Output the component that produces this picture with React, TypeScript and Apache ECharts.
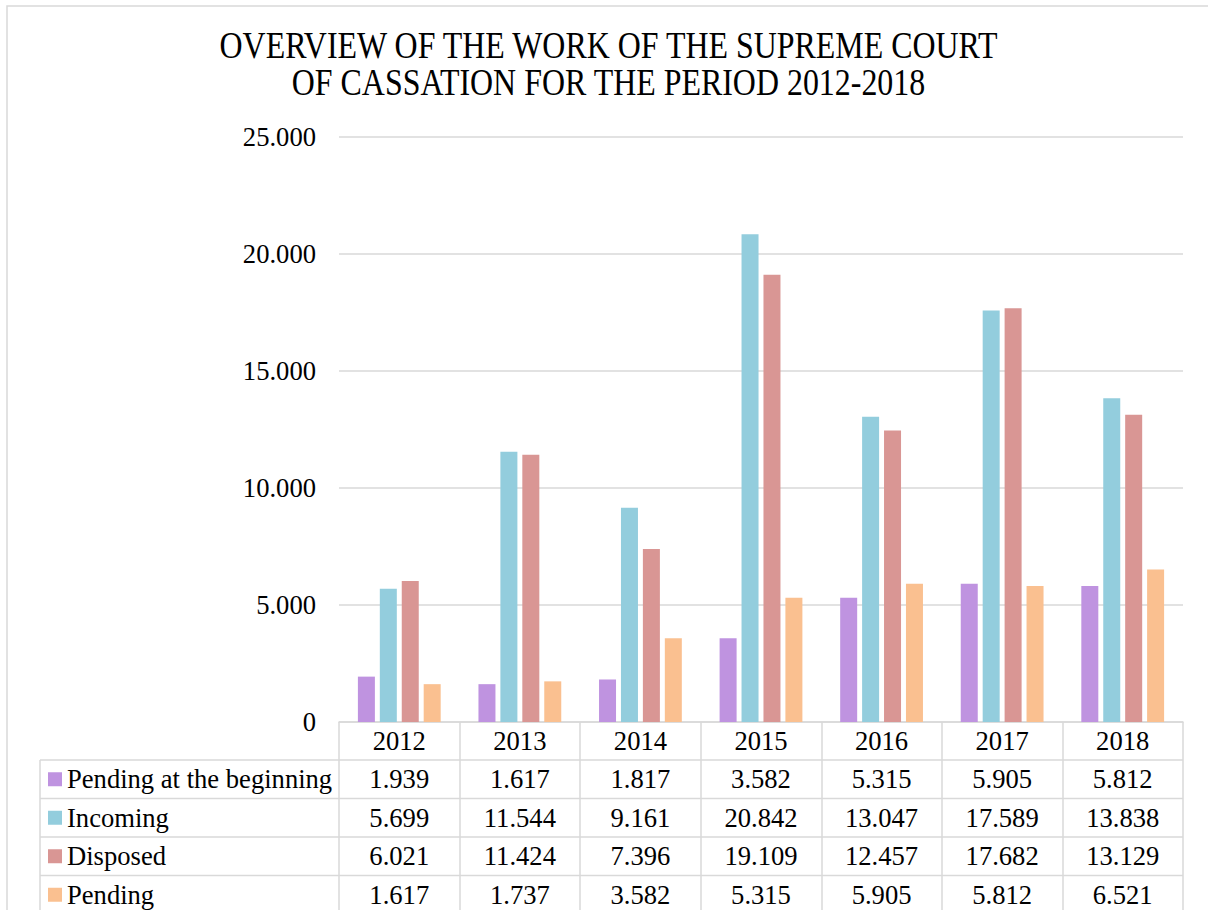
import React, { useEffect, useRef } from "react";
import * as echarts from "echarts";

const years = ["2012", "2013", "2014", "2015", "2016", "2017", "2018"];
const pendingBegin = [1939, 1617, 1817, 3582, 5315, 5905, 5812];
const incoming = [5699, 11544, 9161, 20842, 13047, 17589, 13838];
const disposed = [6021, 11424, 7396, 19109, 12457, 17682, 13129];
const pending = [1617, 1737, 3582, 5315, 5905, 5812, 6521];
const seriesNames = ["Pending at the beginning", "Incoming", "Disposed", "Pending"];
const seriesColors = ["#BF93E0", "#93CDDD", "#D99694", "#FAC090"];
const titleLines = [
  "OVERVIEW OF THE WORK OF THE SUPREME COURT",
  "OF CASSATION FOR THE PERIOD 2012-2018",
];

const FONT = "'Liberation Serif', 'Times New Roman', serif";
const GRID_COLOR = "#d9d9d9";
const FS = 26.6;

const fmt = (v: number) => String(v).replace(/\B(?=(\d{3})+(?!\d))/g, ".");

export default function App() {
  const ref = useRef<HTMLDivElement>(null);
  useEffect(() => {
    if (!ref.current) return;
    const chart = echarts.init(ref.current, null, { renderer: "svg" });
    const allData = [pendingBegin, incoming, disposed, pending];
    chart.setOption({
      animation: false,
      backgroundColor: "#ffffff",
      grid: { left: 339, right: 25, top: 137, bottom: 188 },
      xAxis: {
        type: "category",
        data: years,
        boundaryGap: true,
        axisLine: { show: true, lineStyle: { color: GRID_COLOR, width: 1.5 } },
        axisTick: { show: true, length: 200, lineStyle: { color: GRID_COLOR, width: 1.5 } },
        axisLabel: {
          color: "#000",
          fontFamily: FONT,
          fontSize: FS,
          margin: 19,
          verticalAlign: "middle",
        },
      },
      yAxis: {
        type: "value",
        min: 0,
        max: 25000,
        interval: 5000,
        axisLine: { show: false },
        axisTick: { show: false },
        splitLine: { lineStyle: { color: GRID_COLOR, width: 1.5 } },
        axisLabel: {
          color: "#000",
          fontFamily: FONT,
          fontSize: FS,
          margin: 23,
          formatter: (v: number) => fmt(v),
        },
      },
      series: allData.map((d, i) => ({
        type: "bar",
        name: seriesNames[i],
        data: d,
        barWidth: 17,
        barGap: "29%",
        itemStyle: { color: seriesColors[i] },
      })),
    });

    const rowTops = [760, 798.5, 837, 875.5];
    const rowH = 38.5;
    const graphics: any[] = [];
    graphics.push({
      type: "rect",
      shape: { x: 7, y: 6, width: 1220, height: 930 },
      style: { fill: "none", stroke: GRID_COLOR, lineWidth: 1.5 },
      silent: true,
    });
    titleLines.forEach((t, i) => {
      graphics.push({
        type: "group",
        x: 608.5,
        y: 45.5 + i * 37,
        scaleX: 0.863,
        children: [
          {
            type: "text",
            x: 0,
            y: 0,
            style: {
              text: t,
              fontFamily: FONT,
              fontSize: 37,
              fill: "#000",
              textAlign: "center",
              textVerticalAlign: "middle",
            },
          },
        ],
      });
    });
    const tableLeft = 40;
    const tableRight = 1183;
    rowTops.forEach((y) => {
      graphics.push({
        type: "line",
        shape: { x1: tableLeft, y1: y, x2: tableRight, y2: y },
        style: { stroke: GRID_COLOR, lineWidth: 1.5 },
        silent: true,
      });
    });
    graphics.push({
      type: "line",
      shape: { x1: tableLeft, y1: rowTops[0], x2: tableLeft, y2: 920 },
      style: { stroke: GRID_COLOR, lineWidth: 1.5 },
      silent: true,
    });
    allData.forEach((d, i) => {
      const cy = rowTops[i] + rowH / 2;
      graphics.push({
        type: "rect",
        shape: { x: 48, y: cy - 7, width: 14, height: 14 },
        style: { fill: seriesColors[i] },
      });
      graphics.push({
        type: "text",
        x: 67,
        y: cy,
        style: {
          text: seriesNames[i],
          fontFamily: FONT,
          fontSize: FS,
          fill: "#000",
          textAlign: "left",
          textVerticalAlign: "middle",
        },
      });
      d.forEach((v, j) => {
        const px = chart.convertToPixel({ xAxisIndex: 0 }, years[j]) as number;
        graphics.push({
          type: "text",
          x: px,
          y: cy,
          style: {
            text: fmt(v),
            fontFamily: FONT,
            fontSize: FS,
            fill: "#000",
            textAlign: "center",
            textVerticalAlign: "middle",
          },
        });
      });
    });
    chart.setOption({ graphic: { elements: graphics } });
    return () => chart.dispose();
  }, []);
  return (
    <div
      ref={ref}
      style={{ position: "absolute", left: 0, top: 0, width: 1208, height: 910 }}
    />
  );
}
